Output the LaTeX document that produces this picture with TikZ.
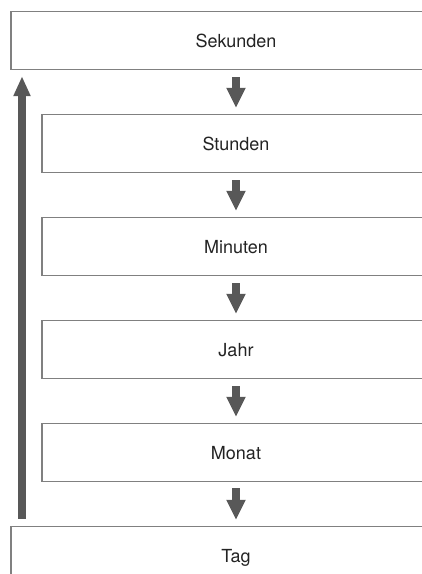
\documentclass[tikz,border=0pt]{standalone}
\usepackage{fontspec}
\setmainfont{TeX Gyre Heros}
\usetikzlibrary{arrows.meta}

\definecolor{boxline}{RGB}{128,128,128}
\definecolor{arrowgray}{RGB}{88,88,88}
\definecolor{labeltext}{RGB}{35,35,35}

\tikzset{
    timebox/.style={shape=rectangle, text=labeltext, font=\fontsize{18}{21}\selectfont,
        minimum height=57pt, text height=14.6pt, text depth=0pt},
    boxframe/.style={draw=boxline, line width=1.2pt},
    flowarrow/.style={draw=arrowgray, line width=8pt,
        -{Triangle[width=18pt, length=20pt]}}
}

\begin{document}
\begin{tikzpicture}[x=1pt, y=-1pt]
            \useasboundingbox (0,0) rectangle (422,574);
            \coordinate (rim) at (422,0);
            \coordinate (floor) at (0,574);
            \coordinate (outer) at (11,0);
            \coordinate (inner) at (42,0);
            \coordinate (back) at (22,0);
            \begin{scope} [node distance=103pt]
                \node[timebox] (Sekunden) at (236,40.5) {Sekunden};
                \node[timebox] (Stunden) [below of=Sekunden] {Stunden};
                \node[timebox] (Minuten) [below of=Stunden] {Minuten};
                \node[timebox] (Jahr) [below of=Minuten] {Jahr};
                \node[timebox] (Monat) [below of=Jahr] {Monat};
                \node[timebox] (Tag) [below of=Monat] {Tag};
            \end{scope}
            % frames stop at the right edge
            \draw[boxframe] (Sekunden.north -| rim) -- (Sekunden.north -| outer) -- (Sekunden.south -| outer) -- (Sekunden.south -| rim);
            \draw[boxframe] (Stunden.north -| rim) -- (Stunden.north -| inner) -- (Stunden.south -| inner) -- (Stunden.south -| rim);
            \draw[boxframe] (Minuten.north -| rim) -- (Minuten.north -| inner) -- (Minuten.south -| inner) -- (Minuten.south -| rim);
            \draw[boxframe] (Jahr.north -| rim) -- (Jahr.north -| inner) -- (Jahr.south -| inner) -- (Jahr.south -| rim);
            \draw[boxframe] (Monat.north -| rim) -- (Monat.north -| inner) -- (Monat.south -| inner) -- (Monat.south -| rim);
            \draw[boxframe] (Tag.north -| rim) -- (Tag.north -| outer) -- (outer |- floor);
            \draw[flowarrow] ([yshift=-8pt]Sekunden.south) -- ([yshift=7pt]Stunden.north);
            \draw[flowarrow] ([yshift=-8pt]Stunden.south) -- ([yshift=7pt]Minuten.north);
            \draw[flowarrow] ([yshift=-8pt]Minuten.south) -- ([yshift=7pt]Jahr.north);
            \draw[flowarrow] ([yshift=-8pt]Jahr.south) -- ([yshift=7pt]Monat.north);
            \draw[flowarrow] ([yshift=-7pt]Monat.south) -- ([yshift=7pt]Tag.north);
            % back to the top
            \draw[flowarrow, -{Triangle[width=16pt, length=20pt]}] ([yshift=8pt]Tag.north -| back) -- ([yshift=-7pt]Sekunden.south -| back);
        \end{tikzpicture}
\end{document}
